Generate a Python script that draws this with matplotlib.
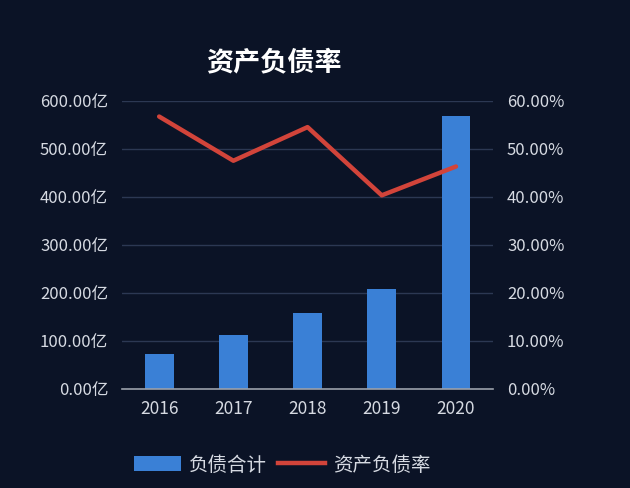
import matplotlib
matplotlib.use("Agg")
import matplotlib.pyplot as plt
from matplotlib.patches import Patch
from matplotlib.lines import Line2D
from matplotlib.ticker import FuncFormatter, MultipleLocator

plt.rcParams['font.family'] = ['Noto Sans CJK SC', 'DejaVu Sans']

years = ['2016', '2017', '2018', '2019', '2020']
debt_total = [72, 113, 159, 209, 569]          # 亿
debt_ratio = [56.7, 47.5, 54.5, 40.3, 46.3]    # %

bg = '#0b1326'
bar_color = '#3a80d6'
line_color = '#d2443a'
text_color = '#d6dae2'
grid_color = '#2c3853'

fig = plt.figure(figsize=(6.3, 4.88), dpi=100, facecolor=bg)
ax = fig.add_axes([0.1937, 0.203, 0.589, 0.5907], facecolor=bg)
x = list(range(len(years)))
ax.bar(x, debt_total, width=0.39, color=bar_color, zorder=2)
ax.set_xlim(-0.5, len(years) - 0.5)
ax.set_ylim(0, 600)
ax.yaxis.set_major_locator(MultipleLocator(100))
ax.yaxis.set_major_formatter(FuncFormatter(lambda v, p: f'{v:.2f}亿'))
ax.set_xticks(x)
ax.set_xticklabels(years)
ax.grid(axis='y', color=grid_color, linewidth=1, zorder=0)
for s in ['top', 'right', 'left']:
    ax.spines[s].set_visible(False)
ax.spines['bottom'].set_color('#9aa0aa')
ax.spines['bottom'].set_linewidth(1.2)
ax.tick_params(axis='both', length=0, colors=text_color)
ax.tick_params(axis='y', pad=10, labelsize=12)
ax.tick_params(axis='x', pad=8, labelsize=12.5)

ax2 = ax.twinx()
ax2.plot(x, debt_ratio, color=line_color, linewidth=3.2, solid_capstyle='round', zorder=3)
ax2.set_ylim(0, 60)
ax2.yaxis.set_major_locator(MultipleLocator(10))
ax2.yaxis.set_major_formatter(FuncFormatter(lambda v, p: f'{v:.2f}%'))
for s in ['top', 'right', 'left', 'bottom']:
    ax2.spines[s].set_visible(False)
ax2.tick_params(axis='y', length=0, colors=text_color, labelsize=12, pad=10)

fig.text(0.435, 0.873, '资产负债率', color='white', fontsize=19.5, fontweight='bold',
         ha='center', va='center')

handles = [Patch(facecolor=bar_color, edgecolor='none'),
           Line2D([0], [0], color=line_color, linewidth=3.2)]
leg = fig.legend(handles, ['负债合计', '资产负债率'], loc='center', bbox_to_anchor=(0.448, 0.047),
                 ncol=2, frameon=False, fontsize=14, handlelength=2.4, handleheight=0.8,
                 columnspacing=0.6, handletextpad=0.4)
for t in leg.get_texts():
    t.set_color(text_color)

fig.savefig('out.png', dpi=100, facecolor=bg)
